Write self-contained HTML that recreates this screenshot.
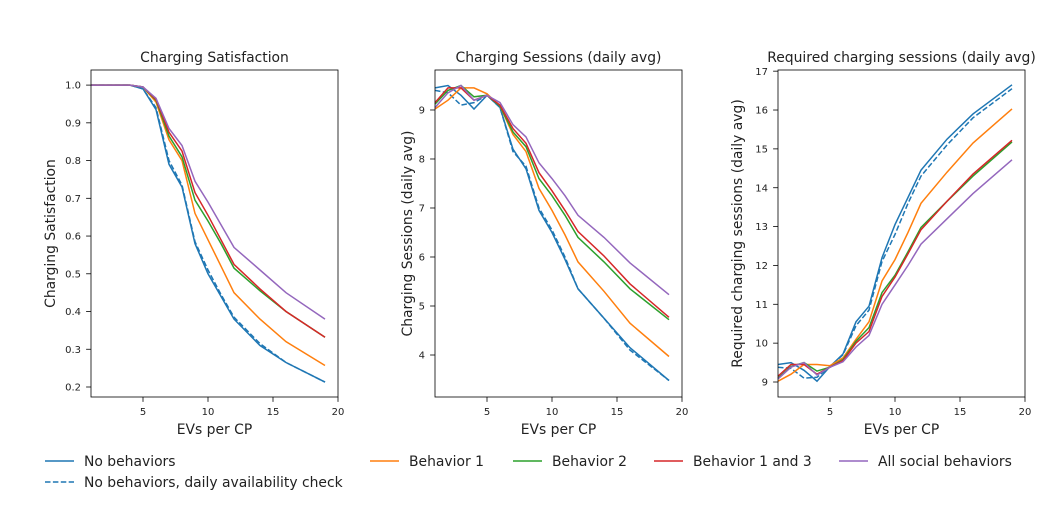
<!DOCTYPE html>
<html><head><meta charset="utf-8"><style>
body{margin:0;background:#fff;font-family:"Liberation Sans","DejaVu Sans",sans-serif}
svg text{font-family:"DejaVu Sans","Liberation Sans",sans-serif;fill:#222}
</style></head><body>
<svg id="chart" width="1058" height="507" xmlns="http://www.w3.org/2000/svg"></svg>
<script>
const xs = [1,2,3,4,5,6,7,8,9,10,11,12,14,16,19];
const seriesNames = ["No behaviors","No behaviors, daily availability check","Behavior 1","Behavior 2","Behavior 1 and 3","All social behaviors"];
const satisfaction = [
 [1,1,1,1,0.99,0.935,0.79,0.73,0.58,0.50,0.44,0.38,0.31,0.265,0.213],
 [1,1,1,1,0.99,0.94,0.80,0.735,0.585,0.51,0.445,0.385,0.315,0.265,0.213],
 [1,1,1,1,0.995,0.955,0.855,0.80,0.66,0.59,0.52,0.45,0.38,0.32,0.257],
 [1,1,1,1,0.995,0.96,0.865,0.81,0.695,0.64,0.58,0.515,0.455,0.40,0.332],
 [1,1,1,1,0.995,0.962,0.875,0.825,0.715,0.655,0.59,0.525,0.46,0.40,0.332],
 [1,1,1,1,0.995,0.965,0.885,0.84,0.745,0.69,0.63,0.57,0.51,0.45,0.38]];
const sessions = [
 [9.45,9.5,9.3,9.02,9.3,9.05,8.2,7.8,6.95,6.5,5.95,5.35,4.75,4.15,3.48],
 [9.4,9.35,9.1,9.15,9.3,9.05,8.15,7.85,7.0,6.55,6.0,5.35,4.75,4.1,3.48],
 [9.02,9.2,9.45,9.45,9.33,9.08,8.5,8.15,7.4,6.95,6.45,5.9,5.3,4.65,3.97],
 [9.12,9.4,9.5,9.27,9.3,9.08,8.55,8.25,7.6,7.25,6.85,6.4,5.9,5.35,4.72],
 [9.15,9.45,9.45,9.2,9.3,9.1,8.62,8.32,7.72,7.35,6.95,6.52,6.02,5.45,4.77],
 [9.05,9.35,9.5,9.2,9.3,9.15,8.7,8.45,7.92,7.6,7.25,6.85,6.4,5.88,5.23]];
const required = [
 [9.45,9.5,9.3,9.02,9.4,9.72,10.55,10.95,12.2,13.05,13.75,14.45,15.25,15.9,16.65],
 [9.38,9.35,9.1,9.12,9.4,9.7,10.45,10.85,12.1,12.8,13.6,14.3,15.1,15.8,16.55],
 [9.02,9.2,9.45,9.45,9.42,9.62,10.1,10.55,11.6,12.15,12.85,13.6,14.4,15.15,16.03],
 [9.1,9.4,9.5,9.28,9.38,9.58,10.05,10.4,11.3,11.75,12.35,12.98,13.65,14.3,15.18],
 [9.15,9.45,9.45,9.2,9.38,9.55,10.0,10.3,11.2,11.7,12.3,12.92,13.65,14.35,15.22],
 [9.08,9.38,9.5,9.18,9.38,9.52,9.9,10.2,11.0,11.5,12.0,12.55,13.2,13.85,14.72]];
const xTicks = [5,10,15,20];
const satTicks = [0.2,0.3,0.4,0.5,0.6,0.7,0.8,0.9,1.0];
const sesTicks = [4,5,6,7,8,9];
const reqTicks = [9,10,11,12,13,14,15,16,17];
const colors = ["#1f77b4","#1f77b4","#ff7f0e","#2ca02c","#d62728","#9467bd"];
const svg = document.getElementById('chart');
const NS = "http://www.w3.org/2000/svg";
function mk(tag, attrs, parent){const e=document.createElementNS(NS,tag);for(const k in attrs)e.setAttribute(k,attrs[k]);(parent||svg).appendChild(e);return e;}
const panels = [
 {x0:91,yl:36,data:satisfaction,ticks:satTicks,ymin:0.1735,ymax:1.04,title:"Charging Satisfaction",ylabel:"Charging Satisfaction",fmt:v=>v.toFixed(1),name:"satisfaction"},
 {x0:435,yl:23,data:sessions,ticks:sesTicks,ymin:3.143,ymax:9.816,title:"Charging Sessions (daily avg)",ylabel:"Charging Sessions (daily avg)",fmt:v=>String(v),name:"sessions"},
 {x0:778,yl:36,data:required,ticks:reqTicks,ymin:8.614,ymax:17.03,title:"Required charging sessions (daily avg)",ylabel:"Required charging sessions (daily avg)",fmt:v=>String(v),name:"required"}];
const W=247,T=70,B=397,FS=13.9;
panels.forEach(p=>{
  const g=mk('g',{});
  
  
  const sx=v=>p.x0+(v-1)/19*W, sy=v=>B-(v-p.ymin)/(p.ymax-p.ymin)*(B-T);
  p.data.forEach((s,i)=>{
    const pts=s.map((v,j)=>sx(xs[j]).toFixed(1)+','+sy(v).toFixed(1)).join(' ');
    const l=mk('polyline',{points:pts,fill:'none',stroke:colors[i],'stroke-width':1.5,'stroke-dasharray':i==1?'5.5,2.4':'none'},g);
    
    
  });
  const fr=mk('rect',{x:p.x0,y:T,width:W,height:B-T,fill:'none',stroke:'#000','stroke-width':0.8},g);
  
  
  xTicks.forEach(t=>{const x=sx(t);mk('line',{x1:x,x2:x,y1:B,y2:B+4.9,stroke:'#000','stroke-width':0.8},g);
    const tx=mk('text',{x:x,y:B+18,'font-size':10,'text-anchor':'middle'},g);tx.textContent=t;
    });
  p.ticks.forEach(t=>{const y=sy(t);mk('line',{x1:p.x0-4.9,x2:p.x0,y1:y,y2:y,stroke:'#000','stroke-width':0.8},g);
    const tx=mk('text',{x:p.x0-10,y:y+3.6,'font-size':10,'text-anchor':'end'},g);tx.textContent=p.fmt(t);
    });
  const ti=mk('text',{x:p.x0+W/2,y:62,'font-size':FS,'text-anchor':'middle'},g);ti.textContent=p.title;
  
  const xl=mk('text',{x:p.x0+W/2,y:434,'font-size':FS,'text-anchor':'middle'},g);xl.textContent="EVs per CP";
  
  const yl=mk('text',{x:0,y:0,'font-size':FS,'text-anchor':'middle',transform:`translate(${p.x0-p.yl},${(T+B)/2}) rotate(-90)`},g);yl.textContent=p.ylabel;
  
});
const legendPos=[[45,461],[45,482],[370,461],[513,461],[654,461],[839,461]];
legendPos.forEach((pos,i)=>{
  const g=mk('g',{});
  
  
  mk('line',{x1:pos[0],x2:pos[0]+29,y1:pos[1],y2:pos[1],stroke:colors[i],'stroke-width':1.5,'stroke-dasharray':i==1?'5.5,2.4':'none'},g);
  const t=mk('text',{x:pos[0]+39,y:pos[1]+5,'font-size':FS},g);t.textContent=seriesNames[i];
});
</script>
</body></html>
